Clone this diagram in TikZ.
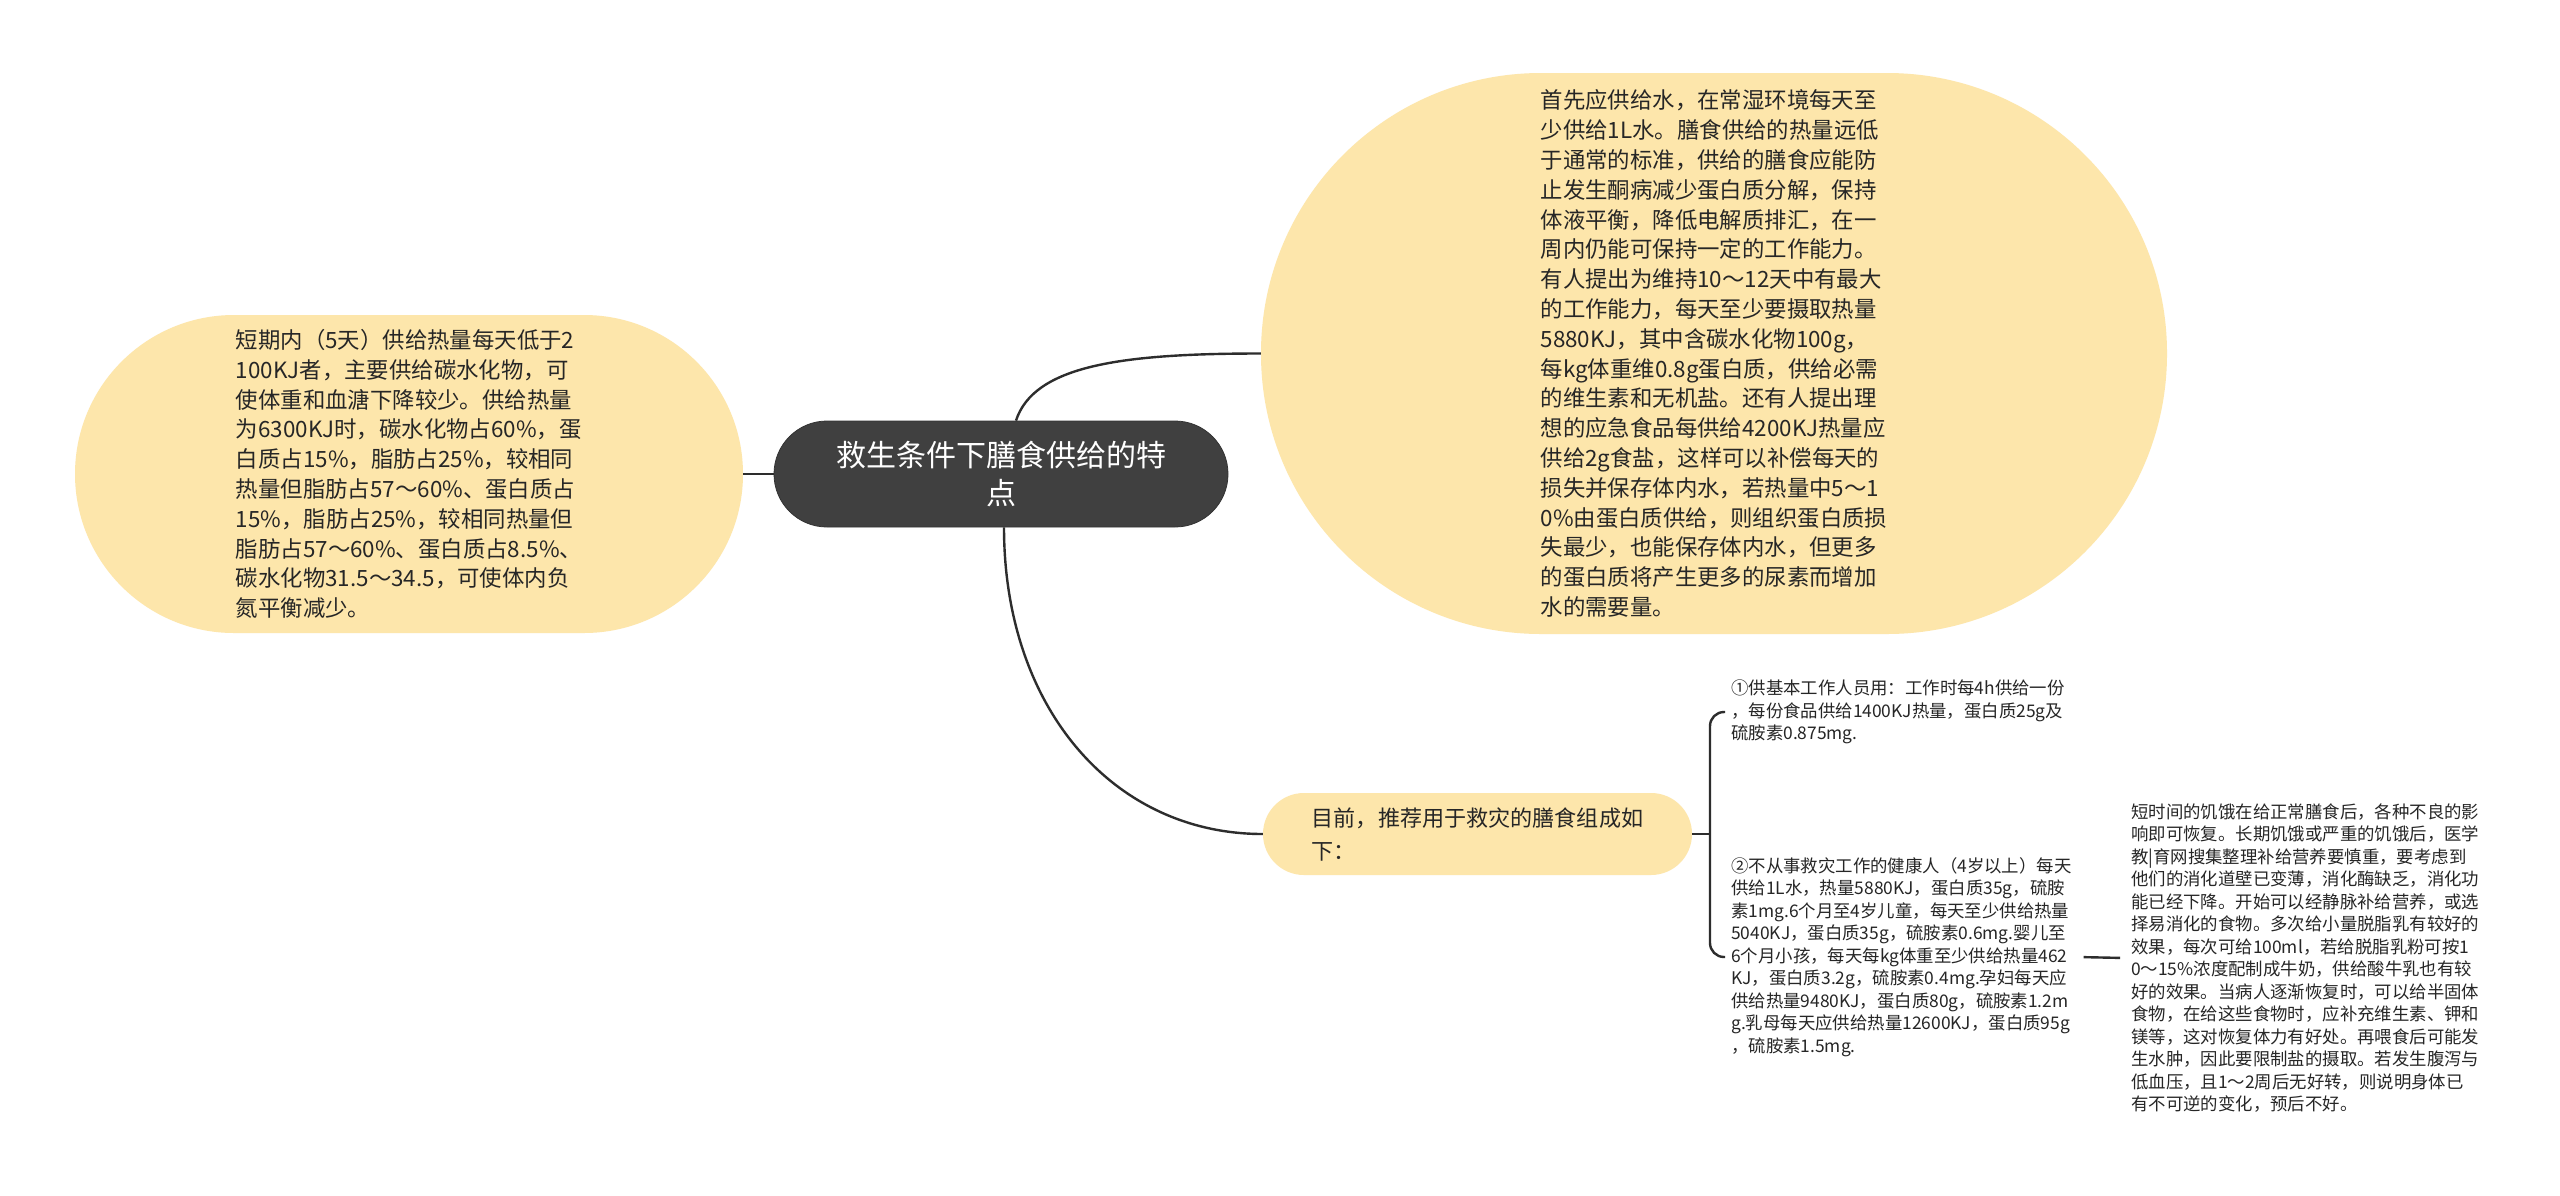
\documentclass[tikz,border=0pt]{standalone}
\usepackage{fontspec}
\setmainfont{Noto Sans CJK SC}
\definecolor{nodeyellow}{RGB}{253,230,171}
\definecolor{rootgray}{RGB}{64,64,64}
\definecolor{linegray}{RGB}{45,45,45}
\definecolor{txt}{RGB}{38,38,38}
\begin{document}
\begin{tikzpicture}[x=1pt,y=-1pt,
  bubble/.style={fill=nodeyellow, draw=none, text=txt, align=left, inner sep=0pt},
  rootbox/.style={fill=rootgray, draw=rootgray!80!black, line width=0.8pt, text=white, align=center, inner sep=0pt},
  plaintext/.style={inner sep=6pt, align=left, text=txt, font=\fontsize{17.4pt}{22.5pt}\selectfont},
  conn/.style={draw=linegray, line width=2.4pt}]
\useasboundingbox (0,0) rectangle (2560,1195);
\fill[white] (0,0) rectangle (2560,1195);

% central topic
\node[rootbox, minimum width=454pt, minimum height=106pt, rounded corners=53pt,
      font=\fontsize{30pt}{38pt}\selectfont] (root) at (1001,474)
  {救生条件下膳食供给的特\\点};

% left branch
\node[bubble, minimum width=668pt, minimum height=318pt, rounded corners=159pt,
      font=\fontsize{22.4pt}{29.8pt}\selectfont] (left) at (409,474)
  {短期内（5天）供给热量每天低于2\\
   100KJ者，主要供给碳水化物，可\\
   使体重和血溏下降较少。供给热量\\
   为6300KJ时，碳水化物占60\%，蛋\\
   白质占15\%，脂肪占25\%，较相同\\
   热量但脂肪占57～60\%、蛋白质占\\
   15\%，脂肪占25\%，较相同热量但\\
   脂肪占57～60\%、蛋白质占8.5\%、\\
   碳水化物31.5～34.5，可使体内负\\
   氮平衡减少。};

% top-right branch
\node[bubble, minimum width=906pt, minimum height=561pt, rounded corners=280pt,
      font=\fontsize{22.4pt}{29.8pt}\selectfont] (tr) at (1714,353.5)
  {首先应供给水，在常湿环境每天至\\
   少供给1L水。膳食供给的热量远低\\
   于通常的标准，供给的膳食应能防\\
   止发生酮病减少蛋白质分解，保持\\
   体液平衡，降低电解质排汇，在一\\
   周内仍能可保持一定的工作能力。\\
   有人提出为维持10～12天中有最大\\
   的工作能力，每天至少要摄取热量\\
   5880KJ，其中含碳水化物100g，\\
   每kg体重维0.8g蛋白质，供给必需\\
   的维生素和无机盐。还有人提出理\\
   想的应急食品每供给4200KJ热量应\\
   供给2g食盐，这样可以补偿每天的\\
   损失并保存体内水，若热量中5～1\\
   0\%由蛋白质供给，则组织蛋白质损\\
   失最少，也能保存体内水，但更多\\
   的蛋白质将产生更多的尿素而增加\\
   水的需要量。};

% bottom branch
\node[bubble, minimum width=429pt, minimum height=82pt, rounded corners=41pt,
      font=\fontsize{22.1pt}{33pt}\selectfont] (bot) at (1477.5,834)
  {目前，推荐用于救灾的膳食组成如\\下：};

% sub items
\node[plaintext, anchor=west] (n1) at (1725,712)
  {①供基本工作人员用：工作时每4h供给一份\\
   ，每份食品供给1400KJ热量，蛋白质25g及\\
   硫胺素0.875mg.};
\node[plaintext, anchor=west] (n2) at (1725,957)
  {②不从事救灾工作的健康人（4岁以上）每天\\
   供给1L水，热量5880KJ，蛋白质35g，硫胺\\
   素1mg.6个月至4岁儿童，每天至少供给热量\\
   5040KJ，蛋白质35g，硫胺素0.6mg.婴儿至\\
   6个月小孩，每天每kg体重至少供给热量462\\
   KJ，蛋白质3.2g，硫胺素0.4mg.孕妇每天应\\
   供给热量9480KJ，蛋白质80g，硫胺素1.2m\\
   g.乳母每天应供给热量12600KJ，蛋白质95g\\
   ，硫胺素1.5mg.};
\node[plaintext, anchor=west] (n3) at (2125,958)
  {短时间的饥饿在给正常膳食后，各种不良的影\\
   响即可恢复。长期饥饿或严重的饥饿后，医学\\
   教|育网搜集整理补给营养要慎重，要考虑到\\
   他们的消化道壁已变薄，消化酶缺乏，消化功\\
   能已经下降。开始可以经静脉补给营养，或选\\
   择易消化的食物。多次给小量脱脂乳有较好的\\
   效果，每次可给100ml，若给脱脂乳粉可按1\\
   0～15\%浓度配制成牛奶，供给酸牛乳也有较\\
   好的效果。当病人逐渐恢复时，可以给半固体\\
   食物，在给这些食物时，应补充维生素、钾和\\
   镁等，这对恢复体力有好处。再喂食后可能发\\
   生水肿，因此要限制盐的摄取。若发生腹泻与\\
   低血压，且1～2周后无好转，则说明身体已\\
   有不可逆的变化，预后不好。};

% connectors
\begin{scope}[on background layer/.try]
\end{scope}
\draw[conn] (root.west) -- (left.east);
\draw[conn] ([xshift=15pt]root.north) .. controls +(18,-55) and +(-140,0) .. (tr.west);
\draw[conn] ([xshift=3pt]root.south) .. controls +(0,180) and +(-150,0) .. (bot.west);
\coordinate (j) at (1710,834);
\draw[conn] (bot.east) -- (j);
\draw[conn, rounded corners=14pt] (n1.west) -| (j) |- (n2.west);
\draw[conn, shorten <=6pt, shorten >=5pt] (n2.east) -- (n3.west);
\end{tikzpicture}
\end{document}
